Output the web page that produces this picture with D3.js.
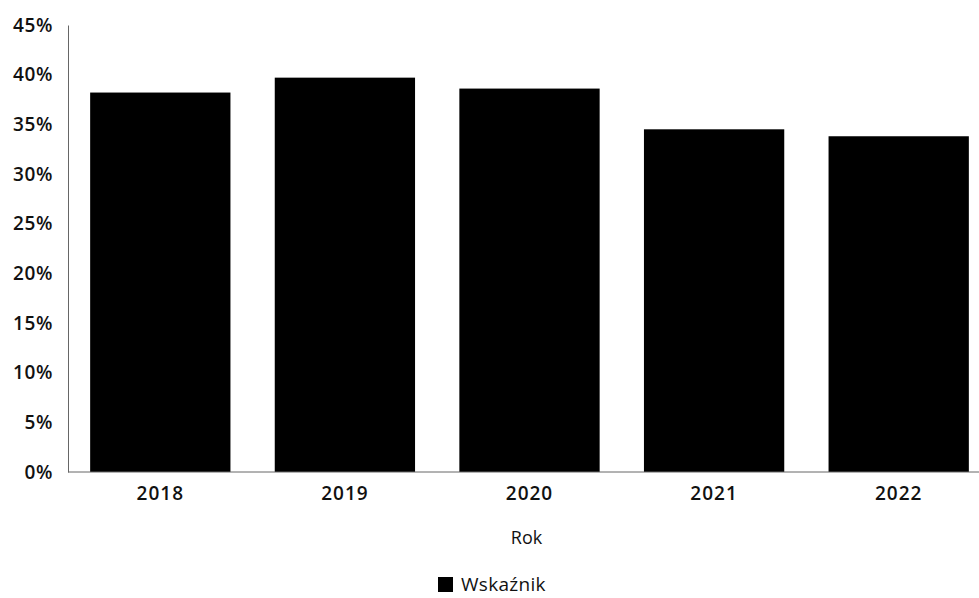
<!DOCTYPE html>
<html><head><meta charset="utf-8">
<script src="https://cdn.jsdelivr.net/npm/d3@7"></script>
<style>body{margin:0;background:#fff}</style>
</head><body>
<script>
const categories = ["2018","2019","2020","2021","2022"];
const values = [38.2, 39.7, 38.6, 34.5, 33.8];
const yTicks = [0,5,10,15,20,25,30,35,40,45];
const seriesName = "Wskaźnik";
const xTitle = "Rok";

const W = 979, H = 598;
const svg = d3.select("body").append("svg").attr("width", W).attr("height", H);
const font = "'Open Sans', sans-serif";

const x = d3.scaleBand().domain(categories).range([68, 991]).paddingInner(0.24).paddingOuter(0.12);
const y = d3.scaleLinear().domain([0,45]).range([472, 25]);

svg.selectAll("rect.bar").data(values).join("rect")
  .attr("class","bar")
  .attr("x",(d,i)=>x(categories[i]))
  .attr("width",x.bandwidth())
  .attr("y",d=>y(d))
  .attr("height",d=>y(0)-y(d))
  .attr("fill","#000");

const ya = svg.append("g").attr("transform","translate(68,0)")
  .call(d3.axisLeft(y).tickValues(yTicks).tickFormat(d=>d+"%").tickSize(0).tickPadding(15));
ya.select(".domain").attr("stroke","#666");
ya.selectAll("text").attr("font-family",font).attr("font-size",19).attr("font-weight",600).attr("fill","#111").style("letter-spacing","0.6px");

const xa = svg.append("g").attr("transform","translate(0,472)")
  .call(d3.axisBottom(x).tickSize(0).tickPadding(15));
xa.select(".domain").attr("stroke","#666").attr("d","M68,0H979");
xa.selectAll("text").attr("font-family",font).attr("font-size",19).attr("font-weight",600).attr("fill","#111").style("letter-spacing","1px");

svg.append("text").attr("x",(68+991)/2-3).attr("y",544).attr("text-anchor","middle")
  .attr("font-family",font).attr("font-size",18).attr("fill","#111").text(xTitle);

const lg = svg.append("g");
lg.append("rect").attr("x",438).attr("y",577).attr("width",15).attr("height",15).attr("fill","#000");
lg.append("text").attr("x",461).attr("y",591).attr("font-family",font).attr("font-size",19).attr("fill","#111").style("letter-spacing","0.3px").text(seriesName);
</script>
</body></html>
